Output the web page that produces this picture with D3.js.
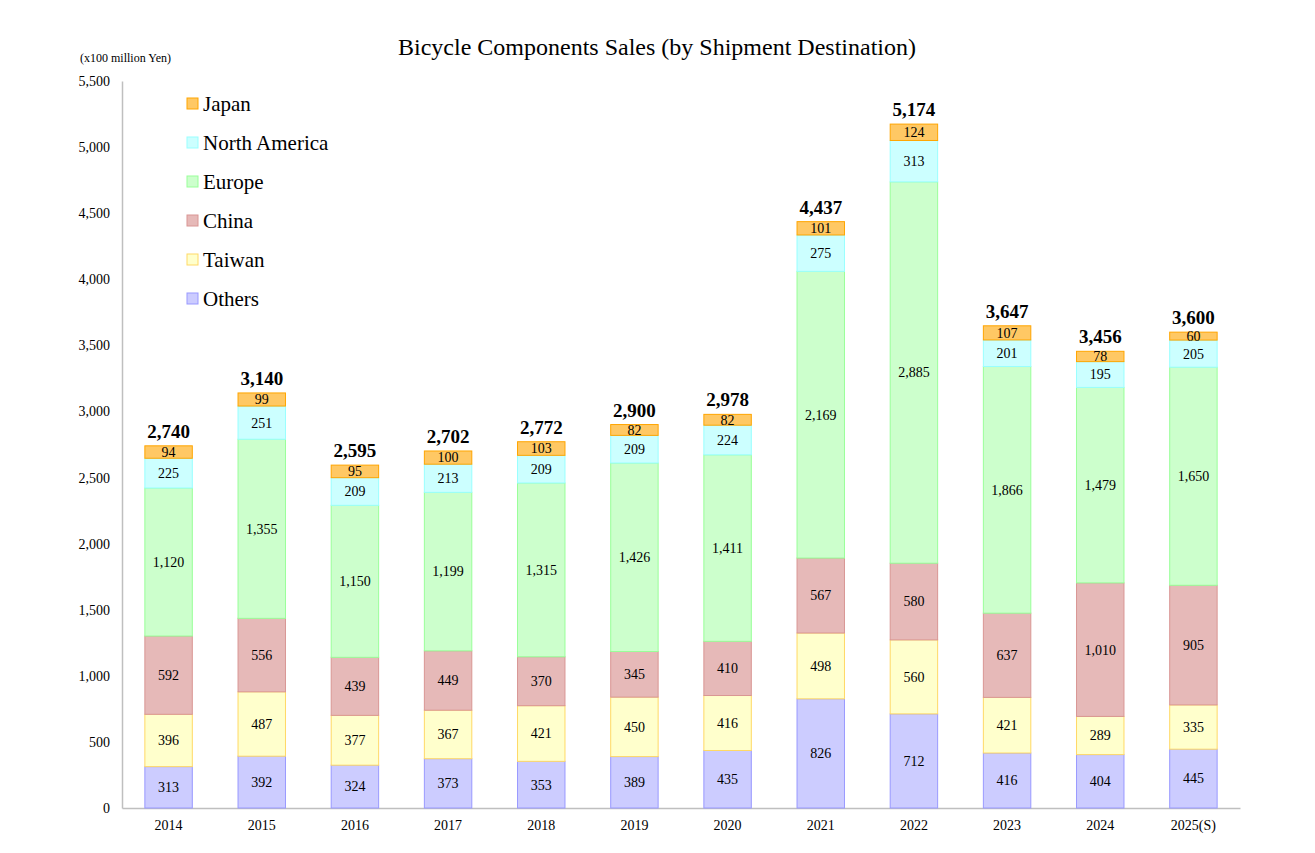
<!DOCTYPE html>
<html><head><meta charset="utf-8">
<script src="https://cdn.jsdelivr.net/npm/d3@7"></script>
<style>body{margin:0;background:#fff}svg{display:block}text{font-family:"Liberation Serif","Times New Roman",serif}</style>
</head><body><svg id="c" width="1315" height="853"></svg>
<script>
const years = ["2014","2015","2016","2017","2018","2019","2020","2021","2022","2023","2024","2025(S)"];
const others = [313,392,324,373,353,389,435,826,712,416,404,445];
const taiwan = [396,487,377,367,421,450,416,498,560,421,289,335];
const china = [592,556,439,449,370,345,410,567,580,637,1010,905];
const europe = [1120,1355,1150,1199,1315,1426,1411,2169,2885,1866,1479,1650];
const northAmerica = [225,251,209,213,209,209,224,275,313,201,195,205];
const japan = [94,99,95,100,103,82,82,101,124,107,78,60];
const totals = [2740,3140,2595,2702,2772,2900,2978,4437,5174,3647,3456,3600];
const yTicks = [0,500,1000,1500,2000,2500,3000,3500,4000,4500,5000,5500];

const series = [
  {name:"Others", values:others, fill:"#ccccff", stroke:"#9999ff"},
  {name:"Taiwan", values:taiwan, fill:"#ffffcc", stroke:"#ffd966"},
  {name:"China", values:china, fill:"#e6b9b8", stroke:"#d99694"},
  {name:"Europe", values:europe, fill:"#ccffcc", stroke:"#99ff99"},
  {name:"North America", values:northAmerica, fill:"#ccffff", stroke:"#99ffff"},
  {name:"Japan", values:japan, fill:"#ffc864", stroke:"#ffa500"}
];

const svg = d3.select("#c");
const m = {l:122, r:1240, t:81, b:808};
const x = d3.scaleBand().domain(years).range([m.l, m.r]).paddingInner(0.48).paddingOuter(0.24);
const y = d3.scaleLinear().domain([0,5500]).range([m.b, m.t]);
const fmt = d3.format(",");

const rows = years.map((yr,i)=>{const o={year:yr}; series.forEach(s=>o[s.name]=s.values[i]); return o;});
const stack = d3.stack().keys(series.map(s=>s.name))(rows);

// axes
const ya = svg.append("g").attr("transform",`translate(${m.l},0)`)
  .call(d3.axisLeft(y).tickValues(yTicks).tickFormat(fmt).tickSize(0).tickPadding(12));
ya.select(".domain").attr("stroke","#bfbfbf").attr("stroke-width",1.5);
ya.selectAll("text").attr("font-size",14).attr("font-family","Liberation Serif").attr("fill","#000");

const xa = svg.append("g").attr("transform",`translate(0,${m.b})`)
  .call(d3.axisBottom(x).tickSize(0).tickPadding(12).tickSizeOuter(0));
xa.select(".domain").attr("stroke","#bfbfbf").attr("stroke-width",1.5);
xa.selectAll("text").attr("font-size",14).attr("font-family","Liberation Serif").attr("fill","#000");

// bars
stack.forEach((layer,li)=>{
  const s = series[li];
  const g = svg.append("g");
  g.selectAll("rect").data(layer).join("rect")
    .attr("x",d=>x(d.data.year)+0.5).attr("width",x.bandwidth()-1)
    .attr("y",d=>y(d[1])).attr("height",d=>y(d[0])-y(d[1]))
    .attr("fill",s.fill).attr("stroke",s.stroke).attr("stroke-width",1);
  g.selectAll("text").data(layer).join("text")
    .attr("x",d=>x(d.data.year)+x.bandwidth()/2)
    .attr("y",d=>(y(d[0])+y(d[1]))/2)
    .attr("dy","0.35em").attr("text-anchor","middle")
    .attr("font-size",14).attr("fill","#000")
    .text(d=>fmt(d[1]-d[0]));
});

// totals
svg.append("g").selectAll("text").data(years).join("text")
  .attr("x",d=>x(d)+x.bandwidth()/2)
  .attr("y",(d,i)=>y(stack[stack.length-1][i][1])-8)
  .attr("text-anchor","middle").attr("font-size",19).attr("font-weight","bold")
  .text((d,i)=>fmt(totals[i]));

// title
svg.append("text").attr("x",657).attr("y",55).attr("text-anchor","middle")
  .attr("font-size",24).text("Bicycle Components Sales (by Shipment Destination)");
svg.append("text").attr("x",80).attr("y",62).attr("font-size",12).text("(x100 million Yen)");

// legend
const leg = svg.append("g");
const legItems = series.slice().reverse();
legItems.forEach((s,i)=>{
  const gy = 104 + i*39;
  leg.append("rect").attr("x",187).attr("y",gy-6).attr("width",11).attr("height",11)
    .attr("fill",s.fill).attr("stroke",s.stroke);
  leg.append("text").attr("x",203).attr("y",gy).attr("dy","0.35em").attr("font-size",21).text(s.name);
});
</script></body></html>
